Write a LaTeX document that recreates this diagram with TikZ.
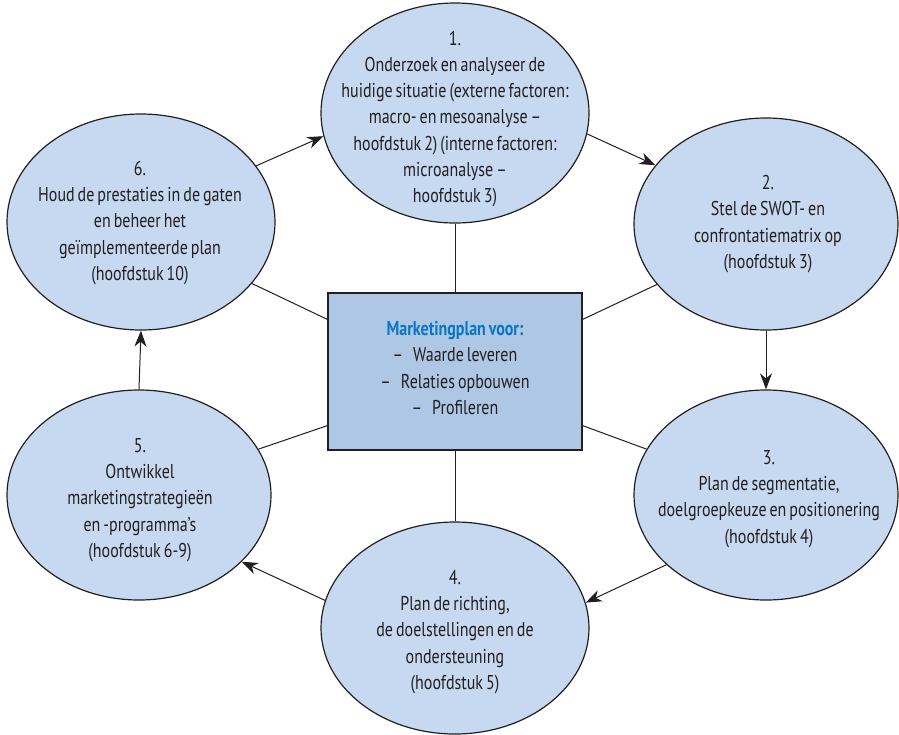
\documentclass[tikz,border=0pt]{standalone}
\usepackage{fontspec}
\setmainfont[FakeStretch=0.8,WordSpace=0.7]{PT Sans}
\usetikzlibrary{arrows.meta,shapes.geometric}
\definecolor{ellfill}{HTML}{C6D9F0}
\definecolor{boxfill}{HTML}{ADC7E5}
\definecolor{ink}{HTML}{231F20}
\definecolor{headblue}{HTML}{0A77C2}
\begin{document}
\begin{tikzpicture}[x=1pt,y=-1pt,
  ell/.style={ellipse, draw=ink, fill=ellfill, line width=1.2pt, inner sep=0pt},
  mainbox/.style={rectangle, draw=ink, fill=boxfill, line width=1.2pt, inner sep=0pt, minimum width=254pt, minimum height=157pt},
  txt/.style={align=center, text=ink, inner sep=0pt, font=\fontsize{20}{26.3}\selectfont},
  arr/.style={draw=ink, line width=1pt, -{Stealth[length=16pt,width=12pt,inset=5pt]}},
  link/.style={draw=ink, line width=1pt}
]
\fill[white] (0,0) rectangle (899,734);
\useasboundingbox (0,0) rectangle (899,734);

\node[ell, minimum width=268pt, minimum height=220pt] (e1) at (455,113) {};
\node[ell, minimum width=264pt, minimum height=212pt] (e2) at (766,224) {};
\node[ell, minimum width=264pt, minimum height=210pt] (e3) at (766,495) {};
\node[ell, minimum width=268pt, minimum height=212pt] (e4) at (455,628) {};
\node[ell, minimum width=264pt, minimum height=210pt] (e5) at (139,495) {};
\node[ell, minimum width=268pt, minimum height=216pt] (e6) at (141,222) {};
\node[mainbox] (box) at (455,371.5) {};

\node[txt] (t1) at (455,119) {1.\\Onderzoek en analyseer de\\huidige situatie (externe factoren:\\macro- en mesoanalyse --\\hoofdstuk 2) (interne factoren:\\microanalyse --\\hoofdstuk 3)};
\node[txt] (t2) at (768,224) {2.\\Stel de SWOT- en\\confrontatiematrix op\\(hoofdstuk 3)};
\node[txt] (t3) at (769,499) {3.\\Plan de segmentatie,\\doelgroepkeuze en positionering\\(hoofdstuk 4)};
\node[txt] (t4) at (455,632) {4.\\Plan de richting,\\de doelstellingen en de\\ondersteuning\\(hoofdstuk 5)};
\node[txt] (t5) at (140,500) {5.\\Ontwikkel\\marketingstrategieën\\en -programma’s\\(hoofdstuk 6-9)};
\node[txt] (t6) at (140,223) {6.\\Houd de prestaties in de gaten\\en beheer het\\geïmplementeerde plan\\(hoofdstuk 10)};
\node[txt] (tb) at (455,368) {\textcolor{headblue}{\bfseries Marketingplan voor:}\\--\hspace{0.5em}Waarde leveren\\--\hspace{0.5em}Relaties opbouwen\\--\hspace{0.5em}Profileren};

% cycle arrows
\draw[arr] (e6.26) -- (e1.190);
\draw[arr] (e1.-9) -- (e2.152);
\draw[arr] (e2.south) -- (e3.north);
\draw[arr] (e3.215) -- (e4.11);
\draw[arr] (e4.168) -- (e5.-33);
\draw[arr] (e5.north) -- (e6.south);

% links from the central box
\draw[link] (box.north) -- (e1.south);
\draw[link] (box.south) -- (e4.north);
\draw[link] ([yshift=-27pt]box.north west) -- (e6.-29);
\draw[link] ([yshift=25pt]box.south west) -- (e5.21);
\draw[link] ([yshift=-27pt]box.north east) -- (e2.209);
\draw[link] ([yshift=25pt]box.south east) -- (e3.159);
\end{tikzpicture}
\end{document}
